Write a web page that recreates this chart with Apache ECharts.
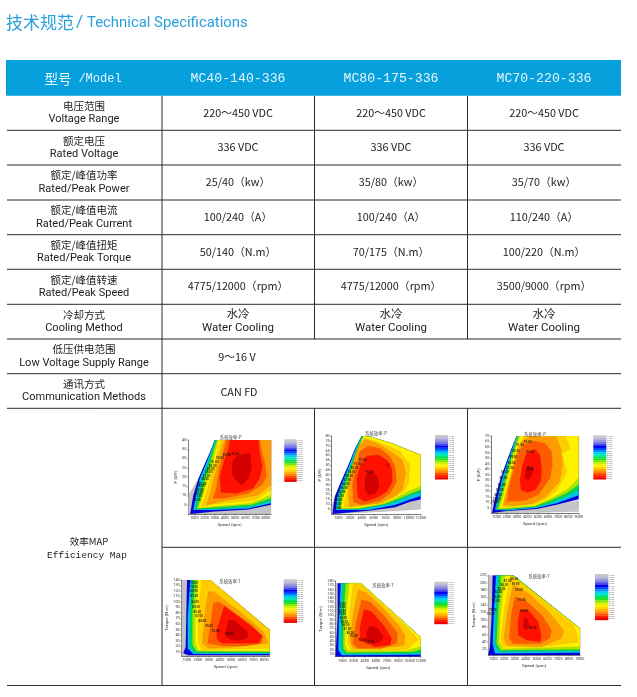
<!DOCTYPE html>
<html><head><meta charset="utf-8">
<style>html,body{margin:0;padding:0;background:#fff}#c{width:637px;height:697px}</style>
<script src="https://cdn.jsdelivr.net/npm/echarts@6/dist/echarts.min.js"></script>
</head><body><div id="c"></div>
<script>
// ---------- table text ----------
const models = ['MC40-140-336','MC80-175-336','MC70-220-336'];
const rowCn = ['电压范围','额定电压','额定/峰值功率','额定/峰值电流','额定/峰值扭矩','额定/峰值转速','冷却方式','低压供电范围','通讯方式'];
const rowEn = ['Voltage Range','Rated Voltage','Rated/Peak Power','Rated/Peak Current','Rated/Peak Torque','Rated/Peak Speed','Cooling Method','Low Voltage Supply Range','Communication Methods'];
const voltageRange = ['220～450 VDC','220～450 VDC','220～450 VDC'];
const ratedVoltage = ['336 VDC','336 VDC','336 VDC'];
const power = ['25/40（kw）','35/80（kw）','35/70（kw）'];
const current = ['100/240（A）','100/240（A）','110/240（A）'];
const torque = ['50/140（N.m）','70/175（N.m）','100/220（N.m）'];
const speed = ['4775/12000（rpm）','4775/12000（rpm）','3500/9000（rpm）'];
const lowVoltage = '9～16 V';
const comms = 'CAN FD';

// ---------- efficiency map levels, low to high ----------
const levelColors = ['#c4c4c8','#0000e4','#00c4ec','#00d858','#a8e800','#fff000','#ffcc00','#ff9a00','#ff5a00','#ff1000','#d40000','#e80800'];
const scaleColors = ['#c8c8c8','#b8b8d8','#9898e0','#7878e0','#4848e8','#0000f0','#0040ff','#0090ff','#00d0f0','#00e8b0','#00e060','#20e020','#80e800','#d0f000','#fff000','#ffd800','#ffb000','#ff8800','#ff5000','#ff2000','#f00000'];
const scaleLabels = ['97.00','96.00','95.00','94.00','93.00','92.00','91.00','90.00','89.00','88.00','87.00','86.00','85.00','84.00','82.00','80.00','75.00','70.00','65.00','60.00','50.00'];

// Speed (rpm), P (kW)
const topP40 = [[3000,40],[8500,40]];
const powerMap40 = [
 [[410,0],[410,10],[1400,19],[8500,5],[8500,0]],
 [[600,0],[900,10],[1400,19],[2050,27.5],[2550,33.7],...topP40,[8500,5],[6300,2.5],[3000,1.3]],
 [[900,2.2],[1150,10],[1550,19.3],[2100,26.5],[2600,33.7],...topP40,[8500,5.8],[6300,3],[3000,2.2]],
 [[1050,2.6],[1400,10.3],[1800,19.3],[2300,26.5],[2700,33.7],[3100,40],[8500,40],[8500,7.2],[6600,4],[3000,2.7]],
 [[1250,3],[1650,10.3],[2050,19.3],[2500,26.5],[2850,33.7],[3200,40],[8500,40],[8500,8.5],[6600,5],[3000,3.5]],
 [[1400,3.1],[1850,10.3],[2300,19.3],[2750,26.5],[3000,32.8],[3350,40],[8500,40],[8500,10.3],[6600,5.8],[3000,4]],
 [[1700,4],[2100,10.3],[2600,19.3],[3000,26.5],[3250,32.8],[3600,40],[8500,40],[8500,13],[6950,7.6],[3000,5.4]],
 [[2200,4.9],[2550,11.2],[2900,19.3],[3300,26.5],[3500,32.8],[3950,40],[8500,40],[8500,15.7],[7250,10.3],[3650,6.7]],
 [[2850,8.5],[3200,14.8],[3350,22],[3650,29.2],[4150,40],[7400,40],[7600,33.7],[7900,27.4],[8050,20.2],[7600,15.7],[6300,11.2],[4000,8.5]],
 [[3600,11.6],[3500,20.2],[3850,27.4],[4300,34.6],[4500,40],[7250,40],[7400,32.8],[7650,25.6],[7400,19.3],[6750,13.9],[5150,11.2]],
 [[4650,22],[4800,29.2],[5300,31.9],[6450,32.8],[6600,25.6],[6300,19.3],[5650,15.7],[5050,18.4]]
];
const topP80 = [[4475,80],[5540,79.3],[8300,72.5],[12000,60.5]];
const topP80b = [[5540,79.3],[8300,72.5],[12000,60.5]];
const powerMap80 = [
 [[650,0],[650,9],[1160,19.5],[5325,7.5],[12000,14],[12000,5],[7000,2.4]],
 [[735,0],[1075,18.4],[1710,30.8],[2775,50.2],[3625,67.3],...topP80,[12000,15],[10640,12.6],[8725,6.8],[5325,3.4]],
 [[1160,4],[1370,18.4],[1925,30.8],[2900,50.2],[3700,67.3],...topP80,[12000,18.4],[10640,15],[8725,9.2],[5325,4]],
 [[1400,5],[1630,18.4],[2200,30.8],[3100,50.2],[3840,67.3],[4550,80],...topP80b,[12000,21.8],[10850,19.5],[9150,13.7],[7450,9.2],[4050,4.8]],
 [[1630,5.4],[1850,18.4],[2435,30.8],[3275,50.2],[3950,67.3],[4650,80],...topP80b,[12000,25],[10850,21.2],[9150,15.3],[7450,10.2],[4050,5.4]],
 [[1850,6],[2140,18.4],[2775,30.8],[3500,50.2],[4125,67.3],[4725,80],...topP80b,[12000,28.4],[10425,23],[8725,16],[7025,10.2],[4050,6.2]],
 [[2265,7.5],[2435,18.4],[3030,30.8],[3700,50.2],[4350,69.8],[4900,77.6],[6390,74],[8090,69],[9360,64],[10640,50.2],[10425,31.4],[9790,22.9],[8510,17],[7025,11.6],[4050,8]],
 [[2860,7.5],[2775,29.7],[3285,50.2],[4050,69],[4900,76.6],[6600,71.8],[8510,62.2],[9660,55.4],[10085,41.7],[9660,25.3],[8725,18.4],[6810,10.9]],
 [[3410,12.6],[3285,31.4],[3840,50.2],[4260,64],[5325,69.7],[6810,67.3],[8090,58.8],[8725,48.5],[8940,33.1],[8090,21.2],[6810,13.7],[4475,9.2]],
 [[3965,17],[3840,36.6],[4260,48.5],[5110,59.5],[6600,60.5],[7660,55.4],[8300,46.8],[8385,33.1],[7660,22.9],[6600,17.8],[4900,12.6]],
 [[4900,24.6],[4900,36.6],[5240,42.4],[5960,43.4],[6515,36.6],[6730,28],[6175,20.5],[5325,19.5]],
 [[7535,50.2],[7790,53],[8130,51],[7960,47.9],[7620,47.9]]
];
const topP70 = [[2950,70],[9000,70]];
const powerMap70 = [
 [[480,0],[480,7.7],[840,13.7],[4900,3.8],[9000,11.6],[9000,1.7],[4900,0.8]],
 [[550,0.2],[935,16.7],[1390,31.8],[1975,46.8],[2460,58.9],...topP70,[9000,12.8],[6850,7.7],[4900,3.8],[1975,2]],
 [[840,3.2],[1160,16.7],[1550,31.8],[2070,46.8],[2530,58.9],...topP70,[9000,16.4],[6850,9.2],[4900,4.7],[1975,2.6]],
 [[935,3.2],[1325,16.7],[1715,31.8],[2200,46.8],[2625,58.9],[3015,70],[9000,70],[9000,21.2],[7825,15.2],[6200,9.2],[4900,5.6],[1975,3.2]],
 [[1100,3.8],[1490,16.7],[1880,31.8],[2300,46.8],[2720,58.9],[3110,70],[9000,70],[9000,25.8],[7825,18.2],[6200,11.3],[4740,6.2],[1975,3.8]],
 [[1260,4.4],[1650,16.7],[2040,31.8],[2495,46.8],[2850,58.9],[3275,70],[9000,70],[9000,31.8],[7825,21.2],[6200,12.8],[4740,6.8],[1975,4.7]],
 [[1585,5.6],[1910,18.2],[2300,31.8],[2725,46.8],[3110,60.4],[3760,70],[7660,70],[8150,58.9],[7340,54.3],[7825,37.8],[6850,21.2],[5710,12.8],[4575,8.3],[1975,5.6]],
 [[1650,7.7],[1975,21.2],[2460,36.3],[2850,52.8],[3440,64.9],[4185,69.4],[6785,69.4],[7240,58.9],[7435,43.8],[7110,28.8],[5810,15.2],[4575,9.2],[2625,6.8]],
 [[2040,10.7],[2140,21.2],[2625,37.8],[3110,54.3],[3600,61.9],[4575,65.8],[5710,63.4],[6360,55.9],[6430,43.8],[6200,31.8],[5060,16.7],[3760,11.6]],
 [[3370,21.2],[3275,30.3],[3535,43.8],[3925,54.3],[4740,58],[5225,52.8],[5390,39.3],[5290,28.8],[4740,21.2],[3990,18.8]],
 [[3760,31.8],[3860,39.3],[4090,43.8],[4575,39.9],[4480,34.8],[4090,30.3]]
];
// Speed (rpm), Torque (N.m)
const topT40 = [[3100,140],[8470,49.3]];
const torqueMap40 = [
 [[550,140],[1210,140],[910,7],[8470,5.7],[8470,2],[550,2]],
 [[1030,140],...topT40,[8470,3.3],[1150,3.3],[700,7],[910,19]],
 [[1330,140],...topT40,[8470,5.7],[1600,5.7],[1090,16],[1090,73.5]],
 [[1510,140],...topT40,[8470,7.5],[1750,7.5],[1300,19],[1300,73.5]],
 [[1750,140],...topT40,[8470,9.3],[1900,10],[1510,22],[1510,79.5]],
 [[1990,140],...topT40,[8470,11],[2050,11.7],[1750,25],[1750,79.5]],
 [[2350,140],[3160,140],[8470,49.3],[8470,16],[2350,14],[2050,28],[2050,79.5]],
 [[2950,118.8],[3400,118.8],[5800,82.5],[7900,46],[8350,25],[5050,18],[2950,16],[2410,25],[2650,79.5]],
 [[3400,97.6],[3850,100.7],[4450,92.8],[6850,58.3],[7840,38.4],[7750,25],[6250,20],[4300,20],[2890,25],[3190,64.4]],
 [[4390,92.8],[6790,56.5],[7810,38.4],[7450,25],[4150,25],[3700,34],[3700,49]],
 [[4750,67.4],[5350,66.2],[6550,44.4],[6400,34],[5710,30],[4900,32.3],[4450,40]]
];
const topT80 = [[4000,174.6],[12000,48.9]];
const torqueMap80 = [
 [[610,174.6],[1050,174.6],[740,5.4],[610,5.4]],
 [[875,174.6],...topT80,[12000,3.8],[610,3.8],[610,11.6],[875,97]],
 [[1280,174.6],...topT80,[12000,8.5],[1410,7],[965,19.4],[1050,97]],
 [[1545,174.6],...topT80,[12000,11.6],[1860,10],[1320,23],[1320,97]],
 [[1945,174.6],...topT80,[12000,19.4],[10780,14.7],[2080,13],[1630,23],[1630,97]],
 [[2390,174.6],...topT80,[12000,27],[9885,17],[2300,17.8],[1860,31],[1945,97]],
 [[2970,174.6],[4090,170.7],[10330,69.8],[11670,44],[10330,23],[8770,19.4],[2660,19.4],[2210,35],[2525,104.7]],
 [[3640,159],[4755,152.8],[6760,120.2],[9000,77.6],[9885,54.3],[9800,31],[8550,27],[2970,23],[2525,38.8],[2970,104.7]],
 [[4090,135.8],[5200,131.9],[7210,97],[8900,58.2],[8770,35],[6760,23],[3640,23],[2880,35],[3420,89.2]],
 [[4440,114],[5425,108.6],[7000,77.6],[8100,46.5],[7880,31],[5870,27],[3860,41],[3860,73.7]],
 [[5200,75.2],[6090,72],[7000,50.4],[6670,38.8],[5650,33.3],[4755,42.6],[4755,62]]
];
const topT70 = [[2840,220],[9000,77]];
const torqueMap70 = [
 [[540,220],[1150,220],[850,5],[540,5]],
 [[940,220],...topT70,[9000,5],[540,5],[690,27.4],[850,108]],
 [[1250,220],...topT70,[9000,11],[1150,9],[940,36],[1060,126]],
 [[1460,220],...topT70,[9000,16],[1460,14],[1150,36],[1250,126]],
 [[1700,220],...topT70,[9000,20],[1675,17.5],[1300,36],[1460,126]],
 [[2075,220],[2900,216],[9000,77],[9000,27],[1920,21],[1520,41],[1700,126]],
 [[2600,220],[3150,209],[8370,86],[8675,63.4],[8830,41],[5000,25.6],[1920,27],[1675,45.4],[2075,135]],
 [[2840,194],[4220,171.4],[6220,117.4],[7450,72.4],[7300,50],[5450,27],[2230,32],[1980,50],[2380,135]],
 [[3000,162.4],[3920,153.4],[5450,113],[6370,72.4],[6220,50],[5300,36],[2840,36],[2470,50],[2690,117.4]],
 [[3460,126.4],[4220,126.4],[5145,95],[5450,54.4],[5300,41],[4070,45.4],[3300,59],[3300,99.4]],
 [[3850,104],[4130,104],[4315,81.4],[4000,72.4],[3760,83]]
];

// contour value labels: speed, y, efficiency
const labelsP40 = [[1250,7.2,70],[1400,9.8,75],[1500,11.2,80],[1550,13,82],[1650,14.8,84],[1800,16.2,85],[2050,18.8,86],[2200,20.6,87],[2450,22.4,88],[2600,24.2,89],[2800,26,90],[3000,28,91],[3500,30,92],[4150,31.5,93],[5000,32.3,94]];
const labelsP80 = [[1370,5.4,70],[1415,9.9,75],[1500,14.3,80],[1710,18.4,82],[1925,22.2,84],[2220,26.3,85],[2435,30.8,86],[2650,34.9,87],[2900,39,88],[3200,42.7,89],[3540,46.8,90],[3965,50.9,91],[4600,54.7,92],[5450,43,94]];
const labelsP70 = [[840,9.8,70],[1000,12.8,75],[1160,16.7,80],[1325,21.2,82],[1490,25.8,84],[1650,31.8,85],[1810,36.9,86],[2300,40.8,87],[2460,45.3,88],[2625,50.4,89],[2885,56.5,90],[3275,61.3,91],[4020,64.3,92],[4250,55,93],[4250,40.2,94]];
const labelsT40 = [[1660,135,70],[1660,126.7,75],[1660,118.8,80],[1690,109.8,82],[1750,99.5,84],[1840,91,85],[1960,82,86],[2110,73.5,87],[2410,65.6,88],[3010,56,90],[3610,47.4,92],[4810,42,94]];
const labelsT80 = [[1410,125.7,70],[1410,118,75],[1455,110,80],[1500,101.6,82],[1630,93,84],[1770,83.8,85],[1945,76,86],[2170,66.7,87],[2570,59,88],[3020,52,90],[4180,42.6,92],[5200,38,94]];
const labelsT70 = [[785,115.6,70],[940,126,75],[1250,149,80],[1300,160,82],[1460,173,84],[1770,182,85],[2010,194,86],[2320,205,87],[2930,210,88],[3060,197,89],[3360,180.4,90],[3610,153.4,91],[3850,124,92],[4620,77,94]];

// tick labels
const speedTicks8k = [1000,2000,3000,4000,5000,6000,7000,8000];
const speedTicks12k = [1500,3000,4500,6000,7500,9000,10500,12000];
const speedTicks9k = [1000,2000,3000,4000,5000,6000,7000,8000,9000];
const pTicks40 = [5,10,15,20,25,30,35,40];
const pTicks80 = [5,10,15,20,25,30,35,40,45,50,55,60,65,70,75,80];
const pTicks70 = [5,10,15,20,25,30,35,40,45,50,55,60,65,70];
const tTicks140 = [10,20,30,40,50,60,70,80,90,100,110,120,130,140];
const tTicks180 = [10,20,30,40,50,60,70,80,90,100,110,120,130,140,150,160,170,180];
const tTicks220 = [20,40,60,80,100,120,140,160,180,200,220];

// ---------- layout ----------
const maps = [
 {levels:powerMap40, labels:labelsP40, xt:speedTicks8k, yt:pTicks40, title:'系统效率-P', yName:'P (kW)', yGap:9, box:[188.3,440,82.7,74], xr:[410,8500], yr:[0,40], scale:[284.3,439.3,12.4,42.4], tp:[225.7,432.7]},
 {levels:powerMap80, labels:labelsP80, xt:speedTicks12k, yt:pTicks80, title:'系统效率-P', yName:'P (kW)', yGap:9, box:[331.7,436,89,78], xr:[650,12000], yr:[0,80], scale:[435,435,13,44.3], tp:[371,428.3]},
 {levels:powerMap70, labels:labelsP70, xt:speedTicks9k, yt:pTicks70, title:'系统效率-P', yName:'P (kW)', yGap:9, box:[491.3,436,87.4,77.3], xr:[480,9000], yr:[0,70], scale:[593.3,435.3,13,44], tp:[530,429.3]},
 {levels:torqueMap40, labels:labelsT40, xt:speedTicks8k, yt:tTicks140, title:'系统效率-T', yName:'Torque (N.m)', yGap:11, box:[181.7,580,88,76], xr:[550,8470], yr:[2,140], scale:[283.7,579.3,13.3,43.4], tp:[225,576.7]},
 {levels:torqueMap80, labels:labelsT80, xt:speedTicks12k, yt:tTicks180, title:'系统效率-T', yName:'Torque (N.m)', yGap:12, box:[335.7,581,85,75.7], xr:[610,12000], yr:[3.8,180], scale:[434.3,581.7,13.4,42.3], tp:[378,580]},
 {levels:torqueMap70, labels:labelsT70, xt:speedTicks9k, yt:tTicks220, title:'系统效率-T', yName:'Torque (N.m)', yGap:12, box:[488.3,575.3,91.7,79.7], xr:[540,9000], yr:[5,220], scale:[595,574,13.3,46], tp:[534,571.7]}
];

const CN = '"Noto Sans CJK SC"', SANS = 'Roboto', MONO = '"Liberation Mono"', NARROW = '"Liberation Sans Narrow","Noto Sans CJK SC"';
const g = [];
const txt = (t,x,y,size,fam,fill,align) => g.push({type:'text',silent:true,z:5,style:{text:t,x,y,fontSize:size,fontFamily:fam,fill:fill||'#222',align:align||'center',verticalAlign:'middle'}});
const line = (x1,y1,x2,y2,c,w) => g.push({type:'line',silent:true,z:4,shape:{x1,y1,x2,y2},style:{stroke:c||'#2a2a2a',lineWidth:w||1}});

// title
txt('技术规范',6,23,17,CN,'#2b9fdc','left');
txt('/',76,23,17,SANS,'#2b9fdc','left');
txt('Technical Specifications',87,23.5,14.9,SANS,'#2b9fdc','left');

// header band
g.push({type:'rect',silent:true,z:3,shape:{x:6,y:60,width:615,height:35.7},style:{fill:'#06a0dc'}});
txt('型号',58,79,13.5,CN,'#e6f6fc');
txt('/Model',100,79,12,MONO,'#e6f6fc');
const colX = [238,391,544];
models.forEach((m,i)=>txt(m,colX[i],79,13.2,MONO,'#e6f6fc'));

// rows
const rowY = [95.7,130.3,165,200,234.7,269.3,304.3,339,373.7,408.3];
rowY.slice(1).forEach(y=>line(7,y,621,y));
rowCn.forEach((t,i)=>{
  const c=(rowY[i]+rowY[i+1])/2;
  txt(t,84,c-7,10.5,CN);
  txt(rowEn[i],84,c+6.5,11,SANS);
});
[voltageRange,ratedVoltage,power,current,torque,speed].forEach((r,i)=>{
  const c=(rowY[i]+rowY[i+1])/2;
  r.forEach((t,k)=>txt(t,colX[k],c-0.5,10.8,NARROW));
});
colX.forEach(x=>{ txt('水冷',x,314,11.5,CN); txt('Water Cooling',x,328.5,11.5,SANS); });
txt(lowVoltage,237,356.7,10.8,NARROW);
txt(comms,239,391.7,10.8,NARROW);
txt('效率MAP',89,541,9.5,CN);
txt('Efficiency Map',87,555,9.5,MONO);

// grid lines
line(162,95.7,162,685.5);
line(314.5,95.7,314.5,339);
line(467.5,95.7,467.5,339);
line(314.5,408.3,314.5,685.5);
line(467.5,408.3,467.5,685.5);
line(162,547.3,621,547.3);
line(7,685.5,621,685.5,'#333',1.2);

// colour scales
maps.forEach(m=>{
  const [x,y,w,h]=m.scale, n=scaleColors.length, hh=h/n;
  scaleColors.forEach((c,i)=>{
    g.push({type:'rect',silent:true,z:3,shape:{x,y:y+i*hh,width:w,height:hh+0.2},style:{fill:c}});
    txt(scaleLabels[i],x+w+0.6,y+(i+0.5)*hh,2.2,SANS,'#777','left');
  });
});

const grids=[],xAxes=[],yAxes=[],series=[],titles=[];
maps.forEach((m,i)=>{
  grids.push({left:m.box[0],top:m.box[1],width:m.box[2],height:m.box[3]});
  const ax = (min,max,ticks,name,extra)=>Object.assign({
    type:'value',gridIndex:i,min,max,name,nameLocation:'middle',
    nameTextStyle:{fontSize:4.4,color:'#333',fontFamily:SANS},
    splitLine:{show:false},
    axisLine:{show:true,onZero:false,lineStyle:{color:'#222',width:0.6}},
    axisTick:{show:true,length:1.5,customValues:ticks,lineStyle:{color:'#222',width:0.4}},
    axisLabel:{show:true,customValues:ticks,fontSize:3.8,margin:2,color:'#333',fontFamily:SANS,hideOverlap:false,formatter:v=>String(v)}
  },extra);
  xAxes.push(ax(m.xr[0],m.xr[1],m.xt,'Speed (rpm)',{nameGap:9}));
  yAxes.push(ax(m.yr[0],m.yr[1],m.yt,m.yName,{nameGap:m.yGap}));
  series.push({
    type:'custom',xAxisIndex:i,yAxisIndex:i,silent:true,clip:true,animation:false,z:2,
    data:m.levels.map((_,k)=>[k]),
    renderItem:(p,api)=>({
      type:'polygon',
      shape:{points:m.levels[p.dataIndex].map(q=>api.coord(q))},
      style:{fill:levelColors[p.dataIndex],stroke:'rgba(60,40,0,0.3)',lineWidth:0.25}
    })
  });
  series.push({
    type:'scatter',xAxisIndex:i,yAxisIndex:i,silent:true,animation:false,z:3,symbolSize:0,
    data:m.labels.map(l=>[l[0],l[1],l[2]]),
    label:{show:true,position:'inside',fontSize:3,fontWeight:'bold',color:'#111',fontFamily:SANS,formatter:p=>p.value[2].toFixed(2)}
  });
  titles.push({text:m.title,left:m.tp[0],top:m.tp[1],textAlign:'center',textVerticalAlign:'middle',textStyle:{fontSize:4.4,fontWeight:'normal',color:'#444',fontFamily:CN}});
});

const chart = echarts.init(document.getElementById('c'),null,{renderer:'canvas'});
chart.setOption({
  backgroundColor:'#fff',animation:false,
  title:titles,grid:grids,xAxis:xAxes,yAxis:yAxes,series,
  graphic:{elements:g}
});
</script></body></html>
